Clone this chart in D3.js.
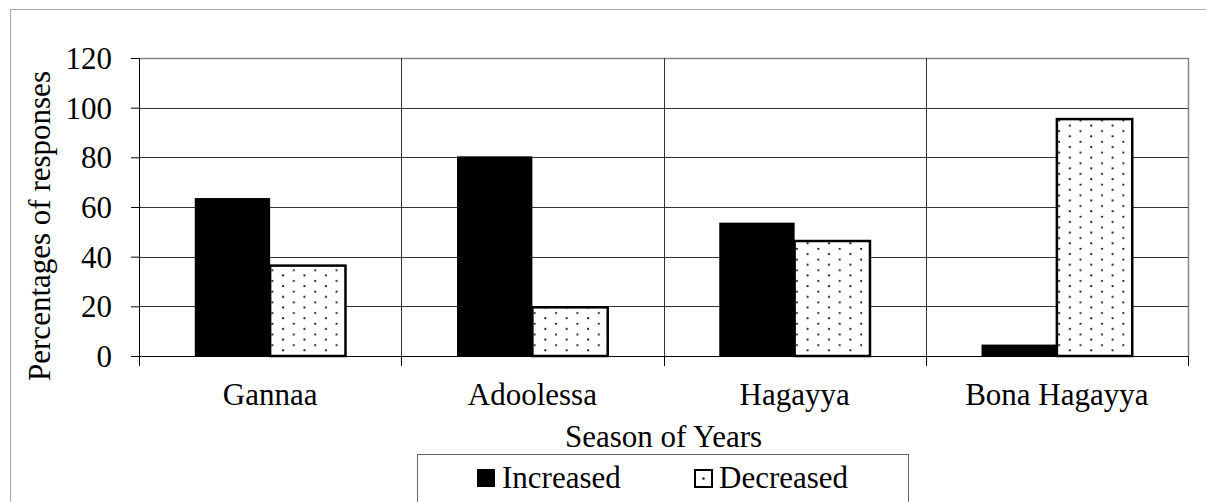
<!DOCTYPE html>
<html lang="en">
<head>
    <meta charset="UTF-8">
    <title>Season of Years</title>
    <script src="https://d3js.org/d3.v7.min.js"></script>
    <style>
        body { margin: 0; background: #fff; }
    </style>
</head>
<body>
    <svg></svg>

    <script>
        const categories = ["Gannaa", "Adoolessa", "Hagayya", "Bona Hagayya"];
        const seriesNames = ["Increased", "Decreased"];
        const increased = [63.6, 80.4, 53.7, 4.6];
        const decreased = [36.4, 19.6, 46.3, 95.4];
        const yTicks = [0, 20, 40, 60, 80, 100, 120];

        const w = 1206, h = 502;
        const m = { left: 139, right: 18, top: 58, bottom: 146 };
        const fs = 31;
        const serif = "'Liberation Serif', 'Times New Roman', Times, serif";

        const svg = d3.select("svg")
            .attr("width", w)
            .attr("height", h)
            .attr("font-family", serif);

        // dotted fill
        const defs = svg.append("defs");
        const pat = defs.append("pattern")
            .attr("id", "dots")
            .attr("patternUnits", "userSpaceOnUse")
            .attr("width", 21.4)
            .attr("height", 10.7);
        pat.append("rect").attr("width", 21.4).attr("height", 10.7).attr("fill", "#fff");
        [[5, 2.7], [15.7, 8]].forEach(p => {
            pat.append("circle").attr("cx", p[0]).attr("cy", p[1]).attr("r", 1.1).attr("fill", "#111");
        });

        // outer chart border
        svg.append("rect")
            .attr("x", 10.5).attr("y", 9.5)
            .attr("width", 1200).attr("height", 520)
            .attr("fill", "none").attr("stroke", "#a6a6a6");

        const x0 = d3.scaleBand()
            .domain(categories)
            .range([m.left, w - m.right])
            .padding(0);

        const x1 = d3.scaleBand()
            .domain(seriesNames)
            .range([0, x0.bandwidth()])
            .paddingInner(0)
            .paddingOuter(0.74);

        const y = d3.scaleLinear()
            .domain([0, 120])
            .range([h - m.bottom, m.top]);

        const plotR = w - m.right;

        // plot frame (top/right)
        svg.append("path")
            .attr("d", `M${m.left},${y(120) + 0.5}H${plotR + 0.5}V${y(0)}`)
            .attr("fill", "none").attr("stroke", "#868686").attr("stroke-width", 1.5);

        // horizontal grid
        svg.append("g")
            .selectAll("line")
            .data(yTicks.filter(t => t > 0 && t < 120))
            .join("line")
            .attr("x1", m.left).attr("x2", plotR)
            .attr("y1", d => Math.round(y(d)) + 0.5).attr("y2", d => Math.round(y(d)) + 0.5)
            .attr("stroke", "#333").attr("stroke-width", 1);

        // vertical grid between categories
        const bounds = categories.slice(1).map(c => x0(c));
        svg.append("g")
            .selectAll("line")
            .data(bounds)
            .join("line")
            .attr("x1", d => Math.round(d) + 0.5).attr("x2", d => Math.round(d) + 0.5)
            .attr("y1", y(120)).attr("y2", y(0))
            .attr("stroke", "#333").attr("stroke-width", 1);

        // bars
        const data = categories.map((c, i) => ({ cat: c, vals: [increased[i], decreased[i]] }));
        const groups = svg.append("g")
            .selectAll("g")
            .data(data)
            .join("g")
            .attr("transform", d => `translate(${x0(d.cat)},0)`);

        groups.selectAll("rect")
            .data(d => d.vals.map((v, j) => ({ key: seriesNames[j], v })))
            .join("rect")
            .attr("x", d => x1(d.key))
            .attr("y", d => y(d.v))
            .attr("width", x1.bandwidth())
            .attr("height", d => y(0) - y(d.v))
            .attr("fill", d => d.key === "Increased" ? "#000" : "url(#dots)")
            .attr("stroke", "#000")
            .attr("stroke-width", d => d.key === "Increased" ? 0 : 2.5);

        // y axis
        const yAxis = d3.axisLeft(y).tickValues(yTicks).tickSize(8).tickPadding(19);
        const gy = svg.append("g")
            .attr("transform", `translate(${m.left},0)`)
            .call(yAxis)
            .attr("font-family", serif)
            .attr("font-size", fs);
        gy.select(".domain").attr("d", `M0.5,${y(120)}V${y(0) + 10}`).attr("stroke", "#000");
        gy.selectAll(".tick line").attr("stroke", "#000");
        gy.selectAll(".tick text")
            .style("font-family", serif)
            .style("font-size", fs + "px")
            .attr("fill", "#000")
            .attr("dy", "0.34em");

        // x axis
        const gx = svg.append("g")
            .attr("transform", `translate(0,${y(0)})`);
        gx.append("line")
            .attr("x1", m.left - 8).attr("x2", plotR)
            .attr("y1", 0.5).attr("y2", 0.5)
            .attr("stroke", "#000");
        gx.selectAll(".bt")
            .data(categories.map(c => x0(c)).concat([plotR]))
            .join("line")
            .attr("class", "bt")
            .attr("x1", d => Math.round(d) + 0.5).attr("x2", d => Math.round(d) + 0.5)
            .attr("y1", 0).attr("y2", 10)
            .attr("stroke", "#000");
        gx.selectAll("text")
            .data(categories)
            .join("text")
            .attr("x", d => x0(d) + x0.bandwidth() / 2)
            .attr("y", 49)
            .attr("text-anchor", "middle")
            .style("font-family", serif)
            .style("font-size", fs + "px")
            .text(d => d);

        // axis titles
        svg.append("text")
            .attr("transform", `translate(50,226) rotate(-90)`)
            .attr("text-anchor", "middle")
            .style("font-family", serif)
            .style("font-size", fs + "px")
            .text("Percentages of responses");

        svg.append("text")
            .attr("x", (m.left + plotR) / 2)
            .attr("y", 447)
            .attr("text-anchor", "middle")
            .style("font-family", serif)
            .style("font-size", fs + "px")
            .text("Season of Years");

        // legend
        const lg = svg.append("g");
        lg.append("rect")
            .attr("x", 417.5).attr("y", 454.5)
            .attr("width", 491).attr("height", 80)
            .attr("fill", "#fff").attr("stroke", "#666");

        const items = [
            { name: seriesNames[0], x: 477 },
            { name: seriesNames[1], x: 694 }
        ];
        items.forEach((it, i) => {
            if (i === 0) {
                lg.append("rect")
                    .attr("x", it.x).attr("y", 469)
                    .attr("width", 18).attr("height", 18)
                    .attr("fill", "#000");
            } else {
                lg.append("rect")
                    .attr("x", it.x + 1).attr("y", 470)
                    .attr("width", 17).attr("height", 17)
                    .attr("fill", "#fff").attr("stroke", "#000").attr("stroke-width", 2);
                lg.append("circle")
                    .attr("cx", it.x + 9.5).attr("cy", 478.5).attr("r", 1.2).attr("fill", "#111");
            }
            lg.append("text")
                .attr("x", it.x + 25)
                .attr("y", 488)
                .style("font-family", serif)
                .style("font-size", fs + "px")
                .text(it.name);
        });
    </script>
</body>
</html>
